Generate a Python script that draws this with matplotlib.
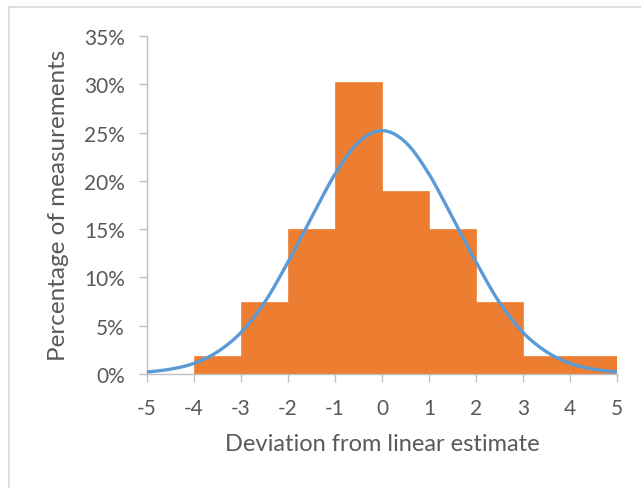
import matplotlib
matplotlib.use("Agg")
import matplotlib.pyplot as plt
from matplotlib.lines import Line2D
from matplotlib.ticker import FuncFormatter
import numpy as np

# Histogram data (bin left edges, bin width 1) in percent
bin_lefts = [-4, -3, -2, -1, 0, 1, 2, 3, 4]
bin_pct = [1.9, 7.5, 15.0, 30.2, 18.9, 15.0, 7.5, 1.9, 1.9]

# Fitted curve (percent)
curve_x = [-5, -4.5, -4, -3.5, -3, -2.5, -2, -1.5, -1, -0.5, 0,
           0.5, 1, 1.5, 2, 2.5, 3, 3.5, 4, 4.5, 5]
curve_y = [0.2, 0.5, 1.1, 2.3, 4.3, 7.4, 11.6, 16.2, 20.7, 24.0, 25.2,
           24.0, 20.7, 16.2, 11.6, 7.4, 4.3, 2.3, 1.1, 0.5, 0.2]

xticks = [-5, -4, -3, -2, -1, 0, 1, 2, 3, 4, 5]
yticks = [0, 5, 10, 15, 20, 25, 30, 35]

plt.rcParams['font.family'] = ['Lato', 'DejaVu Sans']
plt.rcParams['axes.unicode_minus'] = False
text_col = '#595959'
axis_col = '#BFBFBF'

fig = plt.figure(figsize=(6.41, 4.89), dpi=100)
ax = fig.add_axes([147/641, 1-375/489, (617-147)/641, (375-37)/489])

ax.bar(bin_lefts, bin_pct, width=1.0, align='edge', color='#ED7D31',
       edgecolor='#ED7D31', linewidth=0.5, zorder=2)

# smooth curve through read points (cubic Hermite)
xs = np.array(curve_x, dtype=float)
ys = np.array(curve_y, dtype=float)
fine_x = np.linspace(xs[0], xs[-1], 400)
m = np.gradient(ys, xs)
idx = np.clip(np.searchsorted(xs, fine_x) - 1, 0, len(xs) - 2)
h = xs[idx + 1] - xs[idx]
t = (fine_x - xs[idx]) / h
h00 = 2*t**3 - 3*t**2 + 1
h10 = t**3 - 2*t**2 + t
h01 = -2*t**3 + 3*t**2
h11 = t**3 - t**2
fine_y = h00*ys[idx] + h10*h*m[idx] + h01*ys[idx+1] + h11*h*m[idx+1]
ax.plot(fine_x, fine_y, color='#5B9BD5', linewidth=2.4, zorder=3,
        solid_capstyle='round')

ax.set_xlim(-5, 5)
ax.set_ylim(0, 35)
ax.set_xticks(xticks)
ax.set_yticks(yticks)
ax.yaxis.set_major_formatter(FuncFormatter(lambda v, p: f"{int(v)}%"))

for s in ['top', 'right']:
    ax.spines[s].set_visible(False)
for s in ['left', 'bottom']:
    ax.spines[s].set_color(axis_col)
    ax.spines[s].set_linewidth(1.0)
ax.spines['bottom'].set_zorder(4)

ax.tick_params(axis='both', colors=axis_col, length=6, width=1.0,
               labelcolor=text_col, labelsize=15)
ax.tick_params(axis='x', pad=11)
ax.tick_params(axis='y', pad=10)

ax.set_xlabel('Deviation from linear estimate', fontsize=17, color=text_col,
              va='center')
ax.set_ylabel('Percentage of measurements', fontsize=17.5, color=text_col,
              va='center')
ax.xaxis.set_label_coords((382-147)/470, (375-445)/338)
ax.yaxis.set_label_coords((59-147)/470, (375-205)/338)

# chart area border
fig.add_artist(Line2D([9/641, 9/641], [0, 1-7.5/489], transform=fig.transFigure,
                      color='#D9D9D9', linewidth=1.2))
fig.add_artist(Line2D([9/641, 1], [1-7.5/489, 1-7.5/489], transform=fig.transFigure,
                      color='#D9D9D9', linewidth=1.2))

fig.savefig('out.png', dpi=100, facecolor='white')
